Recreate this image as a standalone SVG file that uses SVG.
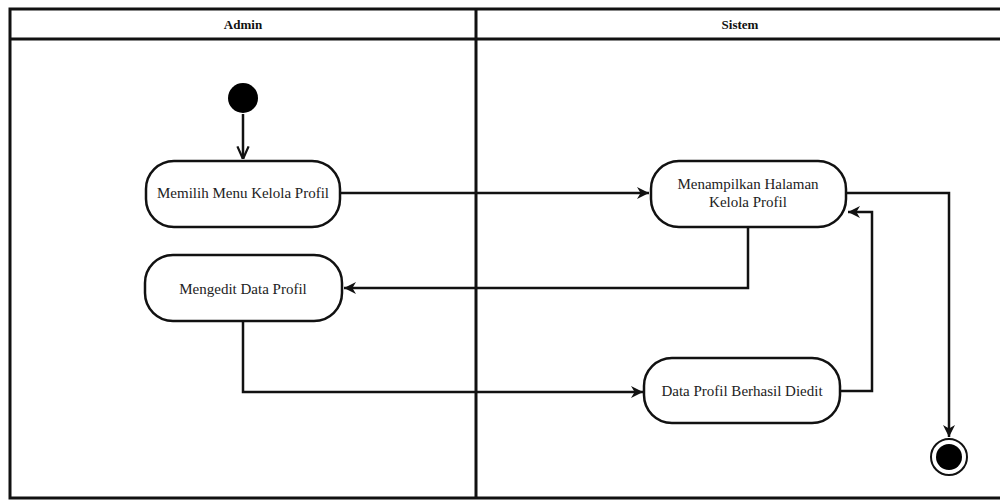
<svg xmlns="http://www.w3.org/2000/svg" width="1000" height="500" viewBox="0 0 1000 500">
<style>
.lane{fill:none;stroke:#111;stroke-width:3}
.hdr{font-family:"Times New Roman",Times,"Liberation Serif",serif;font-size:13px;font-weight:bold;fill:#111;text-anchor:middle}
.node rect{fill:#fff;stroke:#111;stroke-width:2.5}
.lbl{font-family:"Times New Roman",Times,"Liberation Serif",serif;font-size:15px;fill:#222;text-anchor:middle}
.edge{fill:none;stroke:#111;stroke-width:2.5}
</style>
<defs>
<marker id="arr" markerWidth="12" markerHeight="12" refX="10" refY="5" orient="auto" markerUnits="userSpaceOnUse" viewBox="0 0 10 10">
<path d="M0,0 L10,5 L0,10 L3,5 z" fill="#111"/>
</marker>
<marker id="open" markerWidth="14" markerHeight="14" refX="10" refY="5" orient="auto" markerUnits="userSpaceOnUse" viewBox="0 0 10 10">
<path d="M1,1 L10,5 L1,9" fill="none" stroke="#111" stroke-width="1.6"/>
</marker>
</defs>
<rect width="1000" height="500" fill="#fff"/>
<g id="lanes">
<rect class="lane" x="10" y="9" width="995" height="489"/>
<line class="lane" x1="10" y1="39" x2="1005" y2="39"/>
<line class="lane" x1="476" y1="9" x2="476" y2="498"/>
<text class="hdr" x="243" y="29">Admin</text>
<text class="hdr" x="740" y="29">Sistem</text>
</g>
<g id="connectors">
<line class="edge" x1="243" y1="114" x2="243" y2="159" marker-end="url(#open)"/>
<line class="edge" x1="340" y1="193" x2="649" y2="193" marker-end="url(#arr)"/>
<polyline class="edge" points="748,227 748,288 344,288" marker-end="url(#arr)"/>
<polyline class="edge" points="243,321 243,392 643,392" marker-end="url(#arr)"/>
<polyline class="edge" points="840,391 872,391 872,212 848,212" marker-end="url(#arr)"/>
<polyline class="edge" points="847,193 949,193 949,437" marker-end="url(#arr)"/>
</g>
<g id="start"><circle cx="243" cy="98" r="15" fill="#000"/></g>
<g id="n1" class="node"><rect x="146" y="161" width="194" height="66" rx="28"/><text class="lbl" x="243" y="198">Memilih Menu Kelola Profil</text></g>
<g id="n2" class="node"><rect x="651" y="161" width="195" height="66" rx="28"/><text class="lbl" x="748" y="189">Menampilkan Halaman</text><text class="lbl" x="748" y="207">Kelola Profil</text></g>
<g id="n3" class="node"><rect x="145" y="255" width="197" height="66" rx="28"/><text class="lbl" x="243" y="294">Mengedit Data Profil</text></g>
<g id="n4" class="node"><rect x="644" y="358" width="196" height="65" rx="28"/><text class="lbl" x="742" y="396">Data Profil Berhasil Diedit</text></g>
<g id="end"><circle cx="949" cy="457" r="18" fill="#fff" stroke="#111" stroke-width="2"/><circle cx="949" cy="457" r="13" fill="#000"/></g>
</svg>
